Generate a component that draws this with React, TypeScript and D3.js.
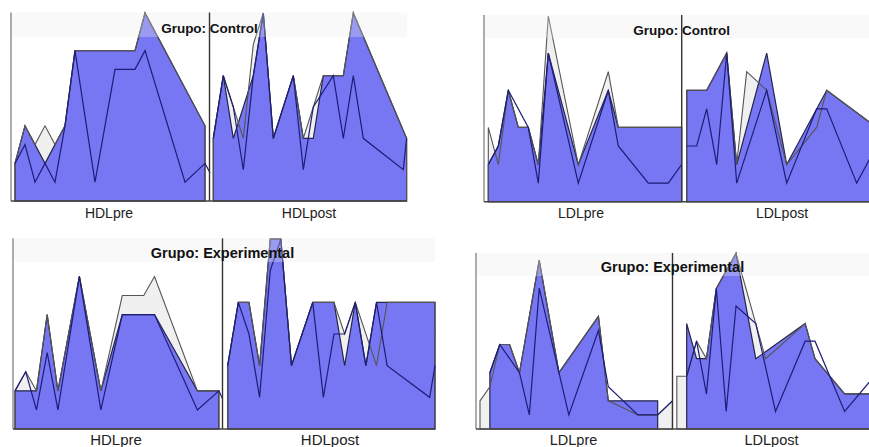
import * as d3 from 'd3';

type Pt = [number, number];

// [case index, value]; points that lie on a straight run are left out

// HDL, grupo control
const hdlCtrlPreGray: Pt[] = [[0, 2], [1, 4], [2, 3], [3, 4], [4, 3], [5, 4], [6, 8], [12, 8], [13, 10], [19, 4]];
const hdlCtrlPreBlue: Pt[] = [[0, 2], [1, 4], [3, 2], [5, 4], [6, 8], [12, 8], [13, 10], [19, 4]];
const hdlCtrlPreLine: Pt[] = [[0, 2], [1, 3], [2, 1], [3, 2], [4, 1], [5, 4], [6, 8], [8, 1], [10, 7], [12, 7], [13, 8], [17, 1], [19, 2], [19.5, 1.5]];

const hdlCtrlPostGray: Pt[] = [[0, 2], [1, 4], [2, 3], [3, 2], [4, 5], [5, 6], [6, 2], [8, 4], [9, 2], [10, 3], [11, 4], [13, 4], [14, 6], [19.33, 2]];
const hdlCtrlPostBlue: Pt[] = [[0, 2], [1, 4], [2, 2], [4, 4], [5, 6], [6, 2], [8, 4], [9, 2], [10, 2], [11, 4], [13, 4], [14, 6], [19.33, 2]];
const hdlCtrlPostLine: Pt[] = [[0, 2], [1, 4], [2, 3], [3, 1], [4, 4], [5, 6], [6, 2], [8, 4], [9, 1], [10, 3], [12, 4], [13, 2], [14, 4], [15, 2], [19, 1], [19.33, 2]];

// LDL, grupo control
const ldlCtrlPreGray: Pt[] = [[0, 4], [1, 2], [2, 6], [3, 4], [4, 4], [5, 2], [6, 10], [9, 2], [12, 7], [13, 4], [19.33, 4]];
const ldlCtrlPreBlue: Pt[] = [[0, 2], [1, 3], [2, 6], [3, 4], [4, 4], [5, 2], [6, 8], [9, 2], [12, 6], [13, 4], [19.33, 4]];
const ldlCtrlPreLine: Pt[] = [[0, 2], [1, 3], [2, 6], [4, 4], [5, 1], [6, 8], [9, 1], [12, 6], [13, 3], [16, 1], [18, 1], [19.33, 2]];

const ldlCtrlPostGray: Pt[] = [[0, 6], [2, 6], [4, 8], [5, 2], [6, 7], [8, 6], [10, 2], [13, 4], [14, 6], [19, 4]];
const ldlCtrlPostBlue: Pt[] = [[0, 6], [2, 6], [4, 8], [5, 2], [8, 8], [10, 2], [14, 6], [19, 4]];
const ldlCtrlPostLine: Pt[] = [[0, 3], [1, 3], [2, 5], [3, 2], [4, 8], [5, 1], [8, 6], [10, 1], [13, 5], [14, 5], [17, 1], [19, 3]];

// HDL, grupo experimental
const hdlExpPreGray: Pt[] = [[0, 2], [1, 3], [2, 2], [3, 6], [4, 2], [6, 8], [8, 2], [10, 7], [12, 7], [13, 8], [17, 2], [19, 2]];
const hdlExpPreBlue: Pt[] = [[0, 2], [2, 2], [3, 6], [4, 2], [6, 8], [8, 2], [10, 6], [13, 6], [17, 2], [19, 2]];
const hdlExpPreLine: Pt[] = [[0, 2], [1, 3], [2, 1], [3, 4], [4, 1], [6, 8], [8, 1], [10, 6], [13, 6], [17, 1], [19, 2], [19.33, 1.6]];

const hdlExpPostGray: Pt[] = [[0, 2], [1, 4], [2, 4], [3, 2], [4, 6], [5, 6], [6, 2], [8, 4], [10, 4], [11, 3], [12, 4], [14, 2], [15, 4], [19.5, 4]];
const hdlExpPostBlue: Pt[] = [[0, 2], [1, 4], [2, 4], [3, 2], [4, 6], [5, 6], [6, 2], [8, 4], [10, 4], [11, 2], [12, 4], [13, 2], [14, 4], [15, 4], [19.5, 4]];
const hdlExpPostLine: Pt[] = [[0, 2], [1, 4], [2, 3], [3, 1], [4, 5], [5, 6], [6, 2], [8, 4], [9, 1], [10, 3], [11, 3], [12, 4], [13, 2], [14, 4], [15, 2], [19, 1], [19.5, 2]];

// LDL, grupo experimental
const ldlExpPreGray: Pt[] = [[0, 2], [1, 3], [2, 6], [3, 6], [4, 4], [6, 12], [8, 4], [12, 8], [13, 2], [16, 1], [18, 1], [19.5, 2]];
const ldlExpPreBlue: Pt[] = [[1, 4], [2, 6], [3, 6], [4, 4], [6, 12], [8, 4], [12, 8], [13, 2], [18, 2]];
const ldlExpPreLine: Pt[] = [[1, 4], [2, 6], [4, 4], [5, 1], [6, 10], [9, 1], [12, 7], [13, 3], [16, 1], [18, 1], [19.5, 2]];

const ldlExpPostGray: Pt[] = [[-1, 3], [0, 3], [1, 5], [2, 4], [3, 8], [5, 10], [7, 6], [8, 4], [12, 6], [13, 4], [16, 2], [19, 2]];
const ldlExpPostBlue: Pt[] = [[0, 6], [1, 4], [2, 4], [3, 8], [5, 10], [7, 4], [12, 6], [13, 4], [16, 2], [19, 2]];
const ldlExpPostLine: Pt[] = [[0, 3], [1, 5], [2, 2], [3, 8], [4, 1], [5, 7], [7, 6], [9, 1], [12, 5], [13, 5], [16, 1], [19, 3]];

const GRAY_FILL = '#f0f0f0';
const GRAY_STROKE = '#555';
const BLUE_FILL = '#7777f3';
const BLUE_STROKE = '#25254a';
const NAVY = '#1d1d78';
const FONT = '"Liberation Sans", Arial, sans-serif';

const panels = [
  {
    title: 'Grupo: Control', titleSize: 13.5, titleY: 33, labelSize: 14, labelY: 218,
    left: 11, right: 407, top: 12.5, base: 201, divider: 209.5, bandBottom: 37,
    subs: [
      { label: 'HDLpre', labelX: 109, x0: 15, step: 10, vmax: 10, yTop: 13, gray: hdlCtrlPreGray, blue: hdlCtrlPreBlue, line: hdlCtrlPreLine },
      { label: 'HDLpost', labelX: 309, x0: 213.3, step: 10, vmax: 6, yTop: 13, gray: hdlCtrlPostGray, blue: hdlCtrlPostBlue, line: hdlCtrlPostLine },
    ],
  },
  {
    title: 'Grupo: Control', titleSize: 13.5, titleY: 35, labelSize: 14, labelY: 218,
    left: 484, right: 880, top: 15, base: 201.7, divider: 681.7, bandBottom: 38,
    subs: [
      { label: 'LDLpre', labelX: 581, x0: 488.3, step: 10, vmax: 10, yTop: 16, gray: ldlCtrlPreGray, blue: ldlCtrlPreBlue, line: ldlCtrlPreLine },
      { label: 'LDLpost', labelX: 782, x0: 686.7, step: 10, vmax: 10, yTop: 16, gray: ldlCtrlPostGray, blue: ldlCtrlPostBlue, line: ldlCtrlPostLine },
    ],
  },
  {
    title: 'Grupo: Experimental', titleSize: 14.5, titleY: 258, labelSize: 15, labelY: 445,
    left: 13, right: 435, top: 238.3, base: 429, divider: 222.5, bandBottom: 262,
    subs: [
      { label: 'HDLpre', labelX: 116, x0: 15, step: 10.73, vmax: 10, yTop: 238.3, gray: hdlExpPreGray, blue: hdlExpPreBlue, line: hdlExpPreLine },
      { label: 'HDLpost', labelX: 330, x0: 227.7, step: 10.63, vmax: 6, yTop: 239, gray: hdlExpPostGray, blue: hdlExpPostBlue, line: hdlExpPostLine },
    ],
  },
  {
    title: 'Grupo: Experimental', titleSize: 14.5, titleY: 272, labelSize: 14.5, labelY: 445,
    left: 476, right: 880, top: 253, base: 429, divider: 672.5, bandBottom: 276,
    subs: [
      { label: 'LDLpre', labelX: 573.5, x0: 480, step: 9.87, vmax: 12.5, yTop: 253, gray: ldlExpPreGray, blue: ldlExpPreBlue, line: ldlExpPreLine },
      { label: 'LDLpost', labelX: 771.5, x0: 686.7, step: 9.87, vmax: 10, yTop: 253.3, gray: ldlExpPostGray, blue: ldlExpPostBlue, line: ldlExpPostLine },
    ],
  },
];

function SubPanel({ sub, base }: { sub: any; base: number }) {
  const x = d3.scaleLinear().domain([0, 1]).range([sub.x0, sub.x0 + sub.step]);
  const y = d3.scaleLinear().domain([0, sub.vmax]).range([base, sub.yTop]);
  const area = d3.area<Pt>().x(d => x(d[0])).y0(base).y1(d => y(d[1]));
  const top = d3.line<Pt>().x(d => x(d[0])).y(d => y(d[1]));
  return (
    <g>
      <path d={area(sub.gray) || ''} fill={GRAY_FILL} stroke="none" />
      <path d={area(sub.blue) || ''} fill={BLUE_FILL} stroke={BLUE_STROKE} strokeWidth={1.2} />
      <path d={area(sub.gray) || ''} fill="none" stroke={GRAY_STROKE} strokeWidth={1.1} />
      <path d={top(sub.line) || ''} fill="none" stroke={NAVY} strokeWidth={1.2} />
    </g>
  );
}

export default function App() {
  return (
    <svg width={869} height={447} style={{ position: 'absolute', left: 0, top: 0, background: '#fff' }}>
      {panels.map((p, i) => (
        <g key={i}>
          {p.subs.map((s, j) => <SubPanel key={j} sub={s} base={p.base} />)}
          {/* faint translucent title strip */}
          <rect x={p.left} y={p.top} width={p.right - p.left} height={p.bandBottom - p.top} fill="#eaeaea" opacity={0.3} />
          <line x1={p.left} x2={p.left} y1={p.top} y2={p.base} stroke="#777" strokeWidth={1.2} />
          <line x1={p.divider} x2={p.divider} y1={p.top} y2={p.base} stroke="#333" strokeWidth={1.4} />
          <line x1={p.left} x2={p.right} y1={p.base} y2={p.base} stroke="#444" strokeWidth={1.4} />
          <text x={p.divider} y={p.titleY} textAnchor="middle" fontFamily={FONT} fontWeight="bold" fontSize={p.titleSize} fill="#111">
            {p.title}
          </text>
          {p.subs.map((s, j) => (
            <text key={j} x={s.labelX} y={p.labelY} textAnchor="middle" fontFamily={FONT} fontSize={p.labelSize} fill="#222">
              {s.label}
            </text>
          ))}
        </g>
      ))}
    </svg>
  );
}
